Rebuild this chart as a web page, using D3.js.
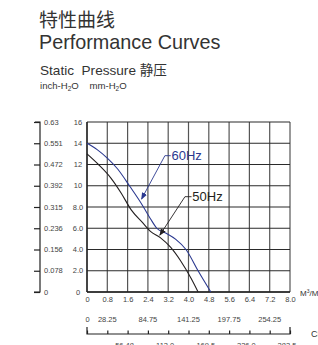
<!DOCTYPE html>
<html>
<head>
<meta charset="utf-8">
<title>Performance Curves</title>
<script src="https://cdn.jsdelivr.net/npm/d3@7"></script>
<style>
  body { margin: 0; background: #fff; }
  svg text { font-family: Arial, "Liberation Sans", sans-serif; }
</style>
</head>
<body>
<script>
// flow in M3/min, pressure in mm-H2O
var flowTicks = [0, 0.8, 1.6, 2.4, 3.2, 4.0, 4.8, 5.6, 6.4, 7.2, 8.0];
var flowLabels = ["0", "0.8", "1.6", "2.4", "3.2", "4.0", "4.8", "5.6", "6.4", "7.2", "8.0"];
var mmTicks = [0, 2, 4, 6, 8, 10, 12, 14, 16];
var mmLabels = ["0", "2.0", "4.0", "6.0", "8.0", "10", "12", "14", "16"];
var inchLabels = ["0", "0.078", "0.156", "0.236", "0.315", "0.392", "0.472", "0.551", "0.63"];
var cfmTicks = [0, 28.25, 56.5, 84.75, 113, 141.25, 169.5, 197.75, 226, 254.25, 282.5];
var cfmTop = [0, 28.25, 84.75, 141.25, 197.75, 254.25];
var cfmTopLabels = ["0", "28.25", "84.75", "141.25", "197.75", "254.25"];
var cfmBottom = [56.48, 113.0, 169.5, 226.0, 282.5];
var cfmBottomLabels = ["56.48", "113.0", "169.5", "226.0", "282.5"];

var flow60 = [0, 0.4, 0.8, 1.2, 1.7, 2.2, 2.5, 2.75, 3.1, 3.5, 3.9, 4.4, 4.88];
var pres60 = [14, 13.4, 12.6, 11.6, 9.9, 8.1, 6.9, 6.0, 5.55, 4.95, 4.0, 1.9, 0];
var flow50 = [0, 0.45, 0.95, 1.35, 1.75, 2.2, 2.5, 2.9, 3.3, 3.7, 4.1, 4.38];
var pres50 = [13, 12.0, 10.7, 9.3, 7.7, 6.5, 5.7, 5.1, 4.2, 2.9, 1.3, 0];

var W = 318, H = 345;
var svg = d3.select("body").append("svg").attr("width", W).attr("height", H);

var x = d3.scaleLinear().domain([0, 8]).range([87, 290]);
var y = d3.scaleLinear().domain([0, 16]).range([292, 122]);
var xc = d3.scaleLinear().domain([0, 282.5]).range([87, 290]);

// headings
svg.append("text").attr("x", 39).attr("y", 26.5).attr("fill", "#333")
    .style("font-family", "'Noto Sans CJK SC', sans-serif").style("font-size", "19px")
    .text("特性曲线");
svg.append("text").attr("x", 39).attr("y", 48.5).attr("fill", "#333")
    .style("font-size", "19.8px").text("Performance Curves");
var sp = svg.append("text").attr("x", 40).attr("y", 74.5).attr("fill", "#333").style("font-size", "13.6px");
sp.append("tspan").text("Static\u00a0\u00a0Pressure ");
sp.append("tspan").style("font-family", "'Noto Sans CJK SC', sans-serif").text("静压");
var un = svg.append("text").attr("x", 40).attr("y", 89).attr("fill", "#333").style("font-size", "9.6px");
un.append("tspan").text("inch-H");
un.append("tspan").attr("dy", 2).style("font-size", "6.5px").text("2");
un.append("tspan").attr("dy", -2).text("O\u00a0\u00a0\u00a0\u00a0mm-H");
un.append("tspan").attr("dy", 2).style("font-size", "6.5px").text("2");
un.append("tspan").attr("dy", -2).text("O");

// grid
var g = svg.append("g");
g.selectAll(".vg").data(flowTicks).enter().append("line")
    .attr("x1", function(d){ return x(d); }).attr("x2", function(d){ return x(d); })
    .attr("y1", y(16)).attr("y2", y(0))
    .attr("stroke", "#555").attr("stroke-width", 1.2);
g.selectAll(".hg").data(mmTicks).enter().append("line")
    .attr("x1", x(0)).attr("x2", x(8))
    .attr("y1", function(d){ return y(d); }).attr("y2", function(d){ return y(d); })
    .attr("stroke", "#2a2a2a").attr("stroke-width", 1.2);
g.append("line").attr("x1", x(0)).attr("x2", x(0)).attr("y1", y(16)).attr("y2", y(0))
    .attr("stroke", "#222").attr("stroke-width", 1.4);
g.append("line").attr("x1", x(0)).attr("x2", x(8)).attr("y1", y(0)).attr("y2", y(0))
    .attr("stroke", "#222").attr("stroke-width", 1.4);

// mm labels
svg.selectAll(".mml").data(mmTicks).enter().append("text")
    .attr("x", 78).attr("y", function(d){ return y(d) + 2.5; })
    .attr("text-anchor", "middle").attr("fill", "#444").style("font-size", "7.5px")
    .text(function(d, i){ return mmLabels[i]; });

// inch axis
var inchAxis = d3.axisLeft(y).tickValues(mmTicks).tickSize(6).tickFormat("");
var ia = svg.append("g").attr("transform", "translate(40,0)").call(inchAxis);
ia.select(".domain").attr("stroke", "#222").attr("stroke-width", 1.2)
    .attr("d", "M-5," + y(16) + "H0V" + y(0) + "H-6");
ia.selectAll(".tick line").attr("stroke", "#222").attr("stroke-width", 1.2);
svg.selectAll(".inl").data(mmTicks).enter().append("text")
    .attr("x", 44).attr("y", function(d){ return y(d) + 2.5; })
    .attr("fill", "#444").style("font-size", "7.5px")
    .text(function(d, i){ return inchLabels[i]; });

// flow labels
var xAxis = d3.axisBottom(x).tickValues(flowTicks).tickSize(0).tickPadding(5)
    .tickFormat(function(d, i){ return flowLabels[i]; });
var xa = svg.append("g").attr("transform", "translate(0," + y(0) + ")").call(xAxis);
xa.select(".domain").remove();
xa.selectAll("text").attr("fill", "#444").style("font-size", "7.5px")
    .style("font-family", "Arial, 'Liberation Sans', sans-serif");
var mu = svg.append("text").attr("x", 300).attr("y", 296).attr("fill", "#333").style("font-size", "8px");
mu.append("tspan").text("M");
mu.append("tspan").attr("dy", -3).style("font-size", "5px").text("3");
mu.append("tspan").attr("dy", 3).text("/Min");

// CFM axis
var cfmY = 334;
var cfmAxis = d3.axisTop(xc).tickValues(cfmTicks).tickSize(3.5).tickFormat("");
var ca = svg.append("g").attr("transform", "translate(0," + cfmY + ")").call(cfmAxis);
ca.select(".domain").attr("stroke", "#222").attr("stroke-width", 1.2)
    .attr("d", "M" + xc(0) + ",-7V0H" + xc(282.5) + "V-7");
ca.selectAll(".tick line").attr("stroke", "#222").attr("stroke-width", 1.2);
svg.selectAll(".ctl").data(cfmTop).enter().append("text")
    .attr("x", function(d){ return xc(d); }).attr("y", 322)
    .attr("text-anchor", function(d){ return d === 0 ? "start" : "middle"; })
    .attr("dx", function(d){ return d === 0 ? -1.5 : 0; })
    .attr("fill", "#444").style("font-size", "7.5px")
    .text(function(d, i){ return cfmTopLabels[i]; });
svg.selectAll(".cbl").data(cfmBottom).enter().append("text")
    .attr("x", function(d){ return xc(d) - 3; }).attr("y", 348)
    .attr("text-anchor", "middle").attr("fill", "#444").style("font-size", "7.5px")
    .text(function(d, i){ return cfmBottomLabels[i]; });
svg.append("text").attr("x", 311).attr("y", 337).attr("fill", "#333")
    .style("font-size", "9px").text("CFM");

// curves
var line = d3.line().curve(d3.curveMonotoneX)
    .x(function(d){ return x(d[0]); }).y(function(d){ return y(d[1]); });
var d60 = d3.zip(flow60, pres60), d50 = d3.zip(flow50, pres50);
svg.append("path").datum(d50).attr("d", line).attr("fill", "none")
    .attr("stroke", "#231f20").attr("stroke-width", 1.1);
svg.append("path").datum(d60).attr("d", line).attr("fill", "none")
    .attr("stroke", "#2b3990").attr("stroke-width", 1.1);

// callouts
var defs = svg.append("defs");
[["a60", "#2b3990"], ["a50", "#231f20"]].forEach(function(m){
    defs.append("marker").attr("id", m[0]).attr("viewBox", "0 -4 10 8")
        .attr("refX", 9).attr("refY", 0).attr("markerWidth", 7).attr("markerHeight", 6)
        .attr("markerUnits", "userSpaceOnUse").attr("orient", "auto")
        .append("path").attr("d", "M0,-4L10,0L0,4Z").attr("fill", m[1]);
});
var call60 = [[3.3, 12.83], [3.07, 12.83], [2.15, 8.75]];
var call50 = [[4.12, 8.97], [3.86, 8.97], [2.87, 5.35]];
var pl = d3.line().x(function(d){ return x(d[0]); }).y(function(d){ return y(d[1]); });
svg.append("path").datum(call60).attr("d", pl).attr("fill", "none")
    .attr("stroke", "#2b3990").attr("stroke-width", 0.9).attr("marker-end", "url(#a60)");
svg.append("path").datum(call50).attr("d", pl).attr("fill", "none")
    .attr("stroke", "#231f20").attr("stroke-width", 0.9).attr("marker-end", "url(#a50)");
svg.append("text").attr("x", x(3.33)).attr("y", y(12.83) + 4.8)
    .attr("fill", "#2b3990").style("font-size", "13px").text("60Hz");
svg.append("text").attr("x", x(4.15)).attr("y", y(8.97) + 4.8)
    .attr("fill", "#231f20").style("font-size", "13px").text("50Hz");
</script>
</body>
</html>
